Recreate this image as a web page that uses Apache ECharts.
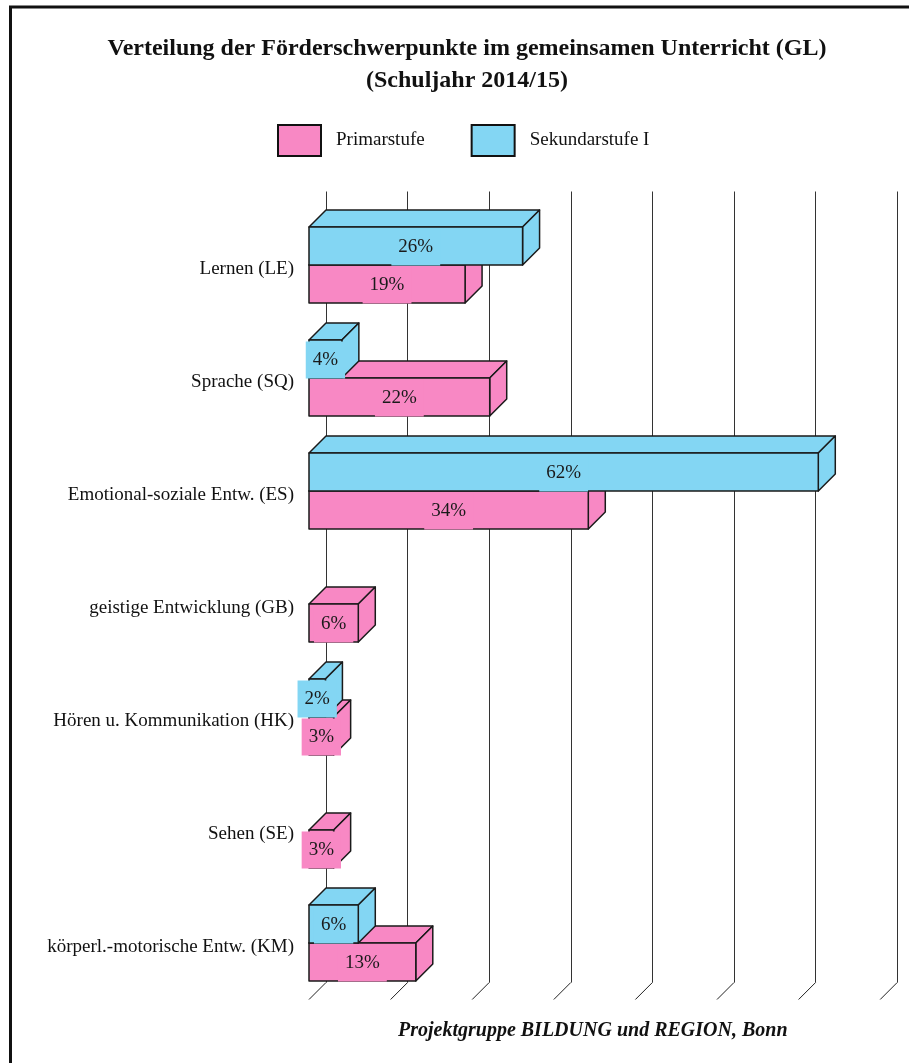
<!DOCTYPE html>
<html>
<head>
<meta charset="utf-8">
<script src="https://cdn.jsdelivr.net/npm/echarts@6/dist/echarts.min.js"></script>
<style>
  html, body { margin: 0; padding: 0; background: #fff; }
  #chart { width: 909px; height: 1063px; }
</style>
</head>
<body>
<div id="chart"></div>
<script>
var categories = [
  'Lernen (LE)',
  'Sprache (SQ)',
  'Emotional-soziale Entw. (ES)',
  'geistige Entwicklung (GB)',
  'Hören u. Kommunikation (HK)',
  'Sehen (SE)',
  'körperl.-motorische Entw. (KM)'
];
var primarstufe = [19, 22, 34, 6, 3, 3, 13];
var sekundarstufe = [26, 4, 62, 0, 2, 0, 6];
var xTicks = [0, 10, 20, 30, 40, 50, 60, 70];

var FONT = '"Liberation Serif", "Times New Roman", serif';
var DEPTH = 17;   // 3d offset
var PINK = '#f888c4';
var BLUE = '#83d6f3';

function barRenderer(lower) {
  return function (params, api) {
    var v = api.value(0);
    if (!v) return null;
    var cat = api.value(1);
    var p0 = api.coord([0, cat]);
    var p1 = api.coord([v, cat]);
    var h = api.size([0, 1])[1] * 0.336;
    var top = lower ? p0[1] : p0[1] - h;
    var bot = top + h;
    var x0 = p0[0], x1 = p1[0];
    var c = api.visual('color');
    var st = { fill: c, stroke: '#1a1a1a', lineWidth: 1.5, lineJoin: 'round' };
    return {
      type: 'group',
      children: [
        { type: 'polygon', shape: { points: [[x0, top], [x0 + DEPTH, top - DEPTH], [x1 + DEPTH, top - DEPTH], [x1, top]] }, style: st },
        { type: 'polygon', shape: { points: [[x1, top], [x1 + DEPTH, top - DEPTH], [x1 + DEPTH, bot - DEPTH], [x1, bot]] }, style: st },
        { type: 'rect', shape: { x: x0, y: top, width: x1 - x0, height: h }, style: st },
        { type: 'text', style: {
            text: v + '%', x: (x0 + x1) / 2, y: (top + bot) / 2 + 1,
            align: 'center', verticalAlign: 'middle',
            font: '19px ' + FONT, fill: '#1a1a1a',
            backgroundColor: c, padding: [9, 7, 9, 7]
        } }
      ]
    };
  };
}

var myChart = echarts.init(document.getElementById('chart'));

var option = {
  backgroundColor: '#fff',
  animation: false,
  title: [
    {
      text: 'Verteilung der Förderschwerpunkte im gemeinsamen Unterricht (GL)\n(Schuljahr 2014/15)',
      left: 467, top: 33, padding: 0, textAlign: 'center',
      textStyle: { fontFamily: FONT, fontWeight: 'bold', fontSize: 24, lineHeight: 32, color: '#111' }
    },
    {
      text: 'Projektgruppe BILDUNG und REGION, Bonn',
      left: 398, top: 1021, padding: 0,
      textStyle: { fontFamily: FONT, fontWeight: 'bold', fontStyle: 'italic', fontSize: 20, color: '#111' }
    }
  ],
  legend: {
    data: ['Primarstufe', 'Sekundarstufe I'],
    left: 277, top: 124, padding: 0,
    icon: 'rect', itemWidth: 43, itemHeight: 31, itemGap: 46,
    itemStyle: { borderColor: '#111', borderWidth: 2 },
    textStyle: { fontFamily: FONT, fontSize: 19, color: '#111', padding: [0, 0, 0, 10] }
  },
  graphic: [
    { type: 'rect', shape: { x: 10.5, y: 7, width: 1000, height: 1200 },
      style: { fill: null, stroke: '#111', lineWidth: 3 }, silent: true }
  ],
  grid: [
    { left: 309, top: 208.5, width: 575, height: 791 },
    { left: 326, top: 191.5, width: 571.2, height: 791 }
  ],
  xAxis: [
    { gridIndex: 0, type: 'value', min: 0, max: 70, interval: 10,
      axisLine: { show: false }, axisTick: { show: false }, axisLabel: { show: false }, splitLine: { show: false } },
    { gridIndex: 1, type: 'value', min: 0, max: 70, interval: 10,
      axisLine: { show: false }, axisTick: { show: false }, axisLabel: { show: false },
      splitLine: { show: true, lineStyle: { color: '#333', width: 1 } } }
  ],
  yAxis: [
    { gridIndex: 0, type: 'category', data: categories, inverse: true,
      axisLine: { show: false }, axisTick: { show: false },
      axisLabel: {
        margin: 15,
        formatter: function (v) { return '{c|' + v + '}'; },
        rich: { c: { fontFamily: FONT, fontSize: 19, color: '#111', padding: [8, 0, 0, 0] } }
      } },
    { gridIndex: 1, type: 'category', data: categories, inverse: true, show: false }
  ],
  series: [
    {
      name: 'ticks', type: 'custom', xAxisIndex: 1, yAxisIndex: 1, silent: true,
      data: xTicks.map(function (t) { return [t, 0]; }),
      encode: { x: 0, y: 1 },
      renderItem: function (params, api) {
        var p = api.coord([api.value(0), 0]);
        var b = params.coordSys.y + params.coordSys.height;
        return { type: 'line', shape: { x1: p[0] - DEPTH, y1: b + DEPTH, x2: p[0], y2: b },
          style: { stroke: '#222', lineWidth: 1 } };
      }
    },
    {
      name: 'Primarstufe', type: 'custom', xAxisIndex: 0, yAxisIndex: 0,
      itemStyle: { color: PINK },
      data: primarstufe.map(function (v, i) { return [v, i]; }),
      encode: { x: 0, y: 1 },
      renderItem: barRenderer(true)
    },
    {
      name: 'Sekundarstufe I', type: 'custom', xAxisIndex: 0, yAxisIndex: 0,
      itemStyle: { color: BLUE },
      data: sekundarstufe.map(function (v, i) { return [v, i]; }),
      encode: { x: 0, y: 1 },
      renderItem: barRenderer(false)
    }
  ]
};

option && myChart.setOption(option);
</script>
</body>
</html>
